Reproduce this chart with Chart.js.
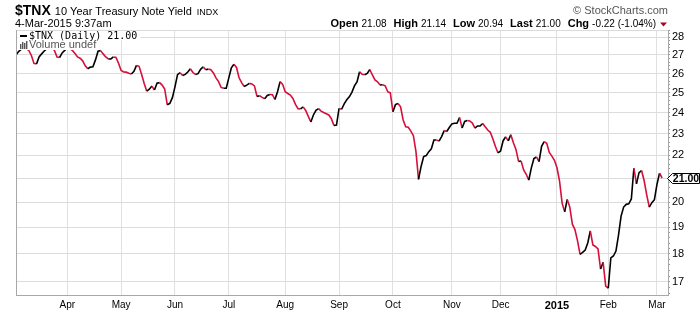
<!DOCTYPE html>
<html><head><meta charset="utf-8">
<script src="https://cdn.jsdelivr.net/npm/chart.js@4/dist/chart.umd.min.js"></script>
<style>html,body{margin:0;padding:0;background:#fff}canvas{display:block}</style>
</head><body>
<canvas id="c" width="700" height="312"></canvas>
<script>
// Daily closes of $TNX, 4-Mar-2014 .. 4-Mar-2015 (trading days, index 0..252)
const values = [
27.00,27.19,27.31,27.39,27.34,27.25,26.97,26.54,26.51,26.89,
27.06,27.22,27.34,27.37,27.39,27.25,26.89,26.86,27.11,27.25,
27.39,27.34,27.25,27.08,26.89,26.82,26.68,26.41,26.25,26.34,
26.36,26.73,27.21,27.24,27.06,26.89,26.78,26.78,26.89,26.86,
26.55,26.16,26.08,26.07,26.01,25.97,26.11,26.43,26.38,25.95,
25.47,25.08,25.18,25.34,25.14,25.49,25.52,25.39,25.19,24.39,
24.46,24.75,25.30,25.94,26.04,25.89,25.95,26.08,26.25,26.05,
25.95,25.99,26.22,26.35,26.20,26.23,26.20,26.03,25.77,25.57,
25.27,25.23,25.23,25.77,26.30,26.49,26.32,25.77,25.52,25.32,
25.39,25.48,25.45,25.35,24.81,24.85,24.76,24.69,24.86,24.91,
24.90,24.66,25.05,25.57,25.43,25.05,24.96,24.88,24.71,24.41,
24.20,24.19,24.29,24.11,23.82,23.55,23.89,24.12,24.20,24.08,
24.01,23.95,23.89,23.71,23.38,23.40,24.21,24.17,24.44,24.64,
24.79,25.02,25.35,25.56,26.09,25.96,25.93,26.00,26.21,25.92,
25.66,25.56,25.40,25.41,25.35,25.05,24.99,24.05,24.40,24.46,
24.29,23.65,23.32,23.30,23.12,22.90,22.17,20.95,21.51,21.95,
21.99,22.17,22.30,22.70,22.70,22.65,22.86,23.14,23.10,23.29,
23.46,23.49,23.49,23.77,23.26,23.58,23.62,23.60,23.50,23.26,
23.36,23.36,23.48,23.32,23.17,23.06,22.75,22.40,22.11,22.20,
22.67,22.85,22.66,22.95,22.57,22.27,21.73,21.75,21.36,21.17,
20.92,21.45,21.86,21.93,21.72,22.41,22.63,22.55,22.13,21.97,
21.78,21.45,20.88,19.96,19.61,20.11,19.80,19.12,18.91,18.49,
17.98,18.05,18.14,18.40,18.86,18.33,18.27,18.18,17.45,17.69,
16.85,16.78,17.85,17.92,18.10,18.70,19.44,19.80,19.91,19.93,
20.13,21.43,20.76,21.24,21.33,20.89,20.30,19.80,19.98,20.10,
20.74,21.22,21.00
];
// first trading day of each month (index into values) and its label
const monthTickIdx    = [20, 41, 62, 83, 105, 126, 147, 170, 189, 211, 231, 250];
const monthTickLabels = ['Apr','May','Jun','Jul','Aug','Sep','Oct','Nov','Dec','2015','Feb','Mar'];
const yTickValues = [17,18,19,20,21,22,23,24,25,26,27,28];
const yMinorStep = 0.2;

const symbol = '$TNX';
const title = '10 Year Treasury Note Yield';
const exchange = 'INDX';
const stamp = '4-Mar-2015 9:37am';
const quote = [['Open','21.08'],['High','21.14'],['Low','20.94'],['Last','21.00'],['Chg','-0.22 (-1.04%)']];
const legendText = '$TNX (Daily) 21.00';
const volumeText = 'Volume undef';
const lastValue = 21.00;

const RED = '#d5103c';
const FONT = '"Liberation Sans", Arial, sans-serif';

const overlay = {
  id: 'overlay',
  afterDatasetsDraw(chart) {
    const ctx = chart.ctx, a = chart.chartArea;
    ctx.save();
    // left & top frame
    ctx.strokeStyle = '#dadada'; ctx.lineWidth = 1;
    ctx.beginPath(); ctx.moveTo(a.left, a.top + 0.5); ctx.lineTo(a.right, a.top + 0.5); ctx.stroke();
    ctx.strokeStyle = '#a8a8a8';
    ctx.beginPath(); ctx.moveTo(a.left + 0.5, a.top); ctx.lineTo(a.left + 0.5, a.bottom); ctx.stroke();
    // legend
    ctx.font = '10px "DejaVu Sans Mono", monospace';
    const lw = ctx.measureText(legendText).width;
    ctx.fillStyle = '#fff';
    ctx.fillRect(a.left + 2, a.top + 1, lw + 14, 9);
    ctx.font = '11px ' + FONT;
    const vw = ctx.measureText(volumeText).width;
    ctx.fillRect(a.left + 2, a.top + 10, vw + 14, 10);
    ctx.fillStyle = '#000';
    ctx.fillRect(a.left + 4, a.top + 5, 7, 2);
    ctx.font = '10px "DejaVu Sans Mono", monospace';
    ctx.textBaseline = 'alphabetic';
    ctx.fillText(legendText, a.left + 13, a.top + 9);
    // volume icon
    ctx.fillStyle = '#555';
    const bx = a.left + 4, by = a.top + 19;
    [[0,5],[2,7],[4,6],[6,8]].forEach(([dx,h]) => ctx.fillRect(bx + dx, by - h, 1.4, h));
    ctx.font = '11px ' + FONT;
    ctx.fillStyle = '#555';
    ctx.fillText(volumeText, a.left + 13, a.top + 18);
    ctx.restore();
  },
  afterDraw(chart) {
    const ctx = chart.ctx, a = chart.chartArea, y = chart.scales.y;
    ctx.save();
    ctx.textBaseline = 'alphabetic';
    // title line
    ctx.fillStyle = '#000';
    ctx.font = 'bold 14px ' + FONT;
    ctx.fillText(symbol, 15, 15);
    let x = 15 + ctx.measureText(symbol).width + 4;
    ctx.font = '11px ' + FONT;
    ctx.fillText(title, x, 15);
    x += ctx.measureText(title).width + 5;
    ctx.font = '9px ' + FONT;
    ctx.fillText(exchange, x, 15);
    ctx.font = '11px ' + FONT;
    ctx.fillText(stamp, 15, 27);
    // copyright
    ctx.fillStyle = '#555';
    ctx.font = '11px ' + FONT;
    ctx.textAlign = 'right';
    ctx.fillText('\u00A9 StockCharts.com', a.right, 14);
    ctx.textAlign = 'left';
    // quote row, right aligned to 656
    const parts = [];
    quote.forEach(([k, v], i) => {
      parts.push({t: k, f: 'bold 11px ' + FONT, gap: 3});
      parts.push({t: v, f: '10px ' + FONT, gap: i < quote.length - 1 ? 7 : 0});
    });
    let total = 0;
    parts.forEach(p => { ctx.font = p.f; p.w = ctx.measureText(p.t).width; total += p.w + p.gap; });
    x = 656 - total;
    ctx.fillStyle = '#000';
    parts.forEach(p => { ctx.font = p.f; ctx.fillText(p.t, x, 27); x += p.w + p.gap; });
    // red down triangle
    ctx.fillStyle = '#9c0a2a';
    ctx.beginPath(); ctx.moveTo(660, 22.5); ctx.lineTo(667, 22.5); ctx.lineTo(663.5, 26.5); ctx.closePath(); ctx.fill();
    // last value tag
    const py = Math.round(y.getPixelForValue(lastValue)) + 0.5;
    const l = a.right - 0.5;
    ctx.beginPath();
    ctx.moveTo(l, py); ctx.lineTo(l + 5, py - 5); ctx.lineTo(699.5, py - 5); ctx.lineTo(699.5, py + 5); ctx.lineTo(l + 5, py + 5); ctx.closePath();
    ctx.fillStyle = '#fff'; ctx.fill();
    ctx.strokeStyle = '#000'; ctx.lineWidth = 1; ctx.stroke();
    ctx.fillStyle = '#000';
    ctx.font = 'bold 10.5px ' + FONT;
    ctx.textBaseline = 'middle';
    ctx.textAlign = 'center';
    ctx.fillText(lastValue.toFixed(2), (l + 5 + 699.5) / 2, py + 0.5);
    ctx.restore();
  }
};

const isInt = v => Math.abs(v - Math.round(v)) < 1e-6;

new Chart(document.getElementById('c'), {
  type: 'line',
  data: {
    datasets: [{
      data: values.map((v, i) => ({x: i, y: v})),
      borderColor: '#000',
      borderWidth: 1.6,
      pointRadius: 0,
      tension: 0,
      segment: { borderColor: c => c.p1.parsed.y < c.p0.parsed.y ? RED : '#000' }
    }]
  },
  options: {
    responsive: false,
    animation: false,
    devicePixelRatio: 1,
    layout: { padding: { top: 30, left: 16, right: 0, bottom: 0 } },
    plugins: { legend: { display: false }, tooltip: { enabled: false } },
    scales: {
      x: {
        type: 'linear', min: 0, max: 254.3,
        afterBuildTicks: ax => { ax.ticks = monthTickIdx.map(v => ({value: v})); },
        afterFit: ax => { ax.height = 17; },
        grid: { color: '#e0e0e0', drawTicks: false },
        border: { color: '#a8a8a8' },
        ticks: {
          autoSkip: false, maxRotation: 0, padding: 4, color: '#000',
          font: c => (c.tick && c.tick.value === 211) ? {family: FONT, size: 11, weight: 'bold'} : {family: FONT, size: 10},
          callback: v => monthTickLabels[monthTickIdx.indexOf(v)] || ''
        }
      },
      y: {
        type: 'logarithmic', position: 'right', min: 16.55, max: 28.41,
        afterBuildTicks: ax => {
          const t = [];
          for (let v = 16.6; v <= 28.4; v += yMinorStep) {
            const r = Math.round(v * 10) / 10;
            if (!yTickValues.includes(r)) t.push({value: r});
          }
          yTickValues.forEach(v => t.push({value: v}));
          t.sort((p, q) => p.value - q.value);
          ax.ticks = t;
        },
        afterFit: ax => { ax.width = 32; },
        grid: {
          color: c => (c.tick && isInt(c.tick.value)) ? '#dcdcdc' : 'rgba(0,0,0,0)',
          tickColor: '#9a9a9a', tickLength: 2, drawTicks: true
        },
        border: { color: '#a8a8a8' },
        ticks: {
          autoSkip: false, padding: 2, color: '#000',
          font: {family: FONT, size: 11},
          callback: v => isInt(v) ? String(Math.round(v)) : ''
        }
      }
    }
  },
  plugins: [overlay]
});
</script>
</body></html>
